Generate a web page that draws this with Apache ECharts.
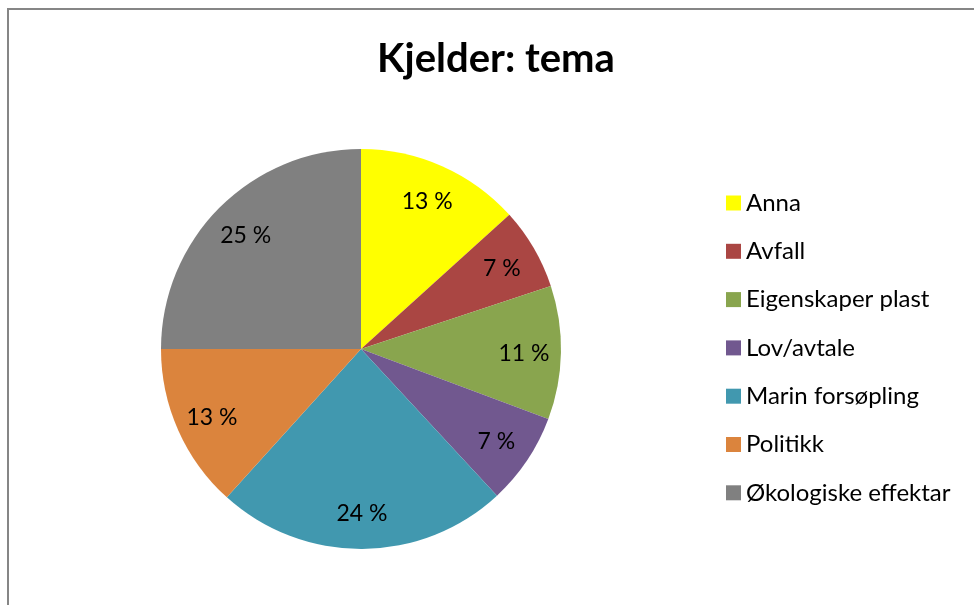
<!DOCTYPE html>
<html>
<head>
<meta charset="utf-8">
<script src="https://cdn.jsdelivr.net/npm/echarts@6/dist/echarts.min.js"></script>
<style>
  html, body { margin: 0; padding: 0; background: #fff; }
  #frame { position: absolute; left: 7px; top: 8px; width: 980px; height: 610px;
           border-top: 2px solid #868686; border-left: 2px solid #868686; }
  #pie { position: absolute; left: 0; top: 0; width: 974px; height: 605px; }
</style>
</head>
<body>
<div id="frame"></div>
<div id="pie"></div>
<script>
var categories = ['Anna', 'Avfall', 'Eigenskaper plast', 'Lov/avtale', 'Marin forsøpling', 'Politikk', 'Økologiske effektar'];
// share of sources in percent
var shares = [13.3, 6.6, 10.8, 7.4, 23.6, 13.3, 25.0];
var colors = ['#ffff00', '#aa4643', '#89a54e', '#71588f', '#4198af', '#db843d', '#808080'];

var pieData = categories.map(function (name, i) {
    return { name: name, value: shares[i], itemStyle: { color: colors[i] } };
});

function set_pie() {
    var option = {
        title: {
            text: 'Kjelder: tema',
            left: 491,
            textAlign: 'center',
            top: 34,
            textStyle: {
                fontFamily: 'Lato',
                fontWeight: 'bold',
                fontSize: 40,
                color: '#000'
            }
        },
        legend: {
            orient: 'vertical',
            left: 721,
            top: 186,
            icon: 'rect',
            itemWidth: 15,
            itemHeight: 15,
            itemGap: 24.3,
            data: categories,
            textStyle: {
                fontFamily: 'Lato',
                fontSize: 24,
                lineHeight: 24,
                color: '#000'
            }
        },
        series: [
            {
                type: 'pie',
                center: [361, 349],
                radius: [0, 200],
                startAngle: 90,
                clockwise: true,
                animation: false,
                label: { show: false },
                labelLine: { show: false },
                data: pieData
            },
            {
                // transparent ring only used to place the percent labels
                type: 'pie',
                center: [361, 351],
                radius: [126, 194],
                startAngle: 90,
                clockwise: true,
                animation: false,
                silent: true,
                itemStyle: { color: 'rgba(0,0,0,0)' },
                label: {
                    show: true,
                    position: 'inside',
                    fontFamily: 'Lato',
                    fontSize: 23,
                    color: '#000',
                    formatter: function (p) {
                        return Math.round(p.percent) + ' %';
                    }
                },
                labelLine: { show: false },
                data: categories.map(function (name, i) {
                    return { name: name, value: shares[i] };
                })
            }
        ]
    };
    var dom = document.getElementById('pie');
    var myChart = echarts.init(dom);
    myChart.setOption(option, true);
}
window.onload = function () {
    set_pie();
};
</script>
</body>
</html>
